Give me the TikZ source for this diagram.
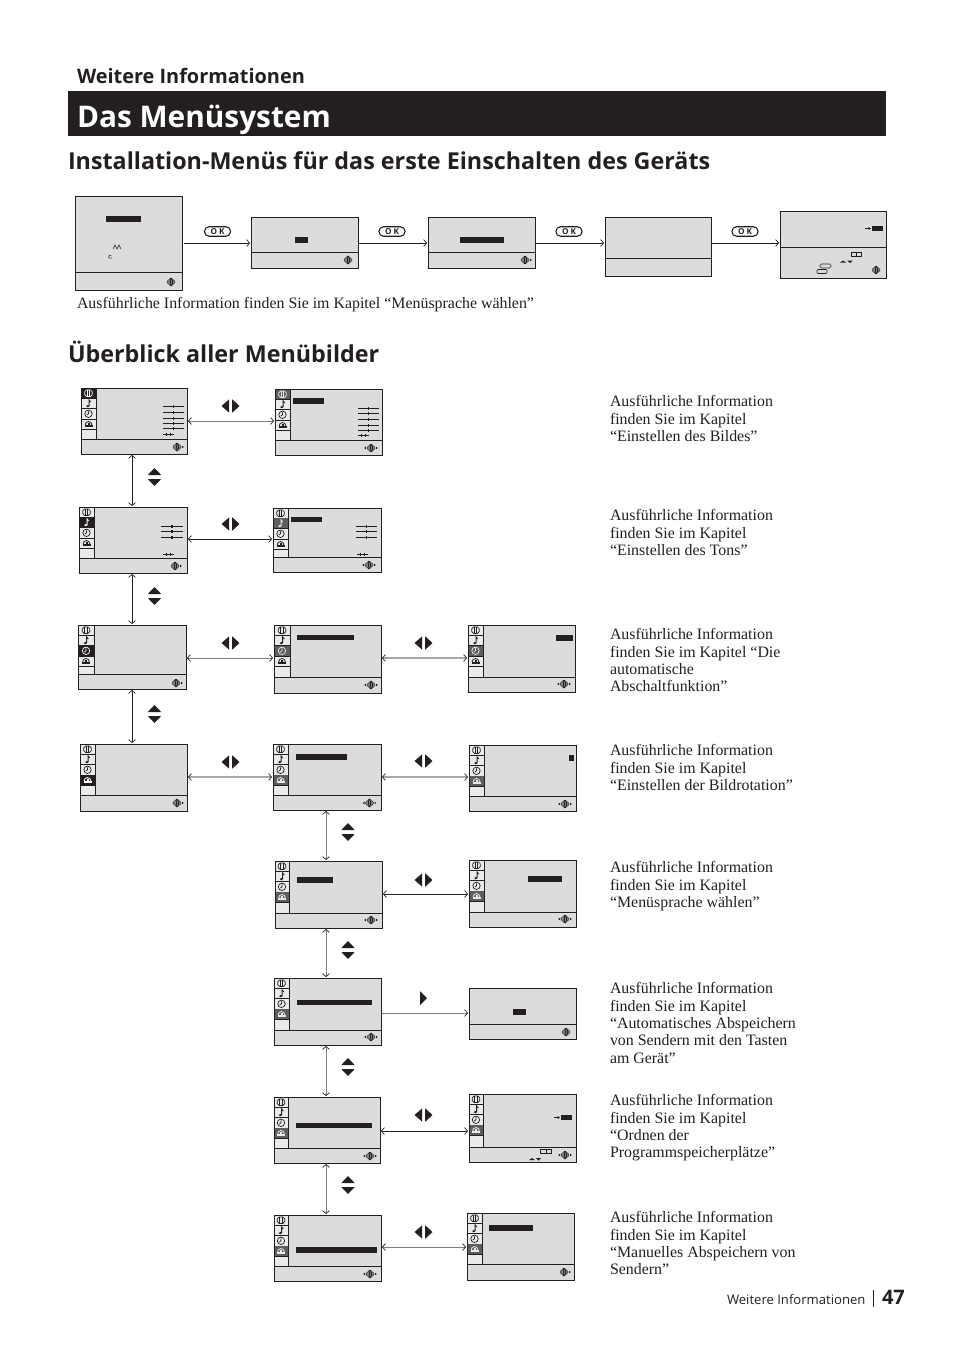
\documentclass[tikz,border=0pt]{standalone}
\usepackage{fontspec}
\setmainfont{Liberation Serif}
\newfontfamily\headsans{Open Sans}
\usetikzlibrary{arrows.meta}
\definecolor{scr}{HTML}{DCDCDC}
\definecolor{cell}{HTML}{EAEAEA}
\definecolor{ink}{HTML}{231F20}
\definecolor{act}{HTML}{5E5E5E}
\definecolor{lgr}{HTML}{A8A8A8}
\definecolor{mgr}{HTML}{808080}
\tikzset{
  scrbox/.style={draw=ink,fill=scr,line width=0.9pt,inner sep=0pt,outer sep=0pt},
  body/.style={inner sep=0pt,outer sep=0pt,anchor=north west,align=left,text=ink,font=\fontsize{15.9}{17.4}\selectfont},
  capt/.style={inner sep=0pt,outer sep=0pt,anchor=base west,text=ink},
  okpill/.style={draw=ink,line width=1.1pt,rounded corners=4.5pt,minimum width=26pt,minimum height=9.5pt,inner sep=0pt,text height=5.8pt,text depth=0pt,font=\headsans\fontsize{8.2}{8.2}\selectfont\bfseries,text=ink},
  conn/.style={draw=ink,line width=0.8pt,shorten <=1pt,shorten >=1pt},
  two/.style={conn,{Straight Barb[length=3pt,width=7pt,line width=0.7pt,color=ink]}-{Straight Barb[length=3pt,width=7pt,line width=0.7pt,color=ink]}},
  one/.style={conn,-{Straight Barb[length=3pt,width=7pt,line width=0.7pt,color=ink]}},
  gline/.style={draw=mgr,line width=1pt},
  lline/.style={draw=lgr,line width=1.4pt},
}
% screen: name x1 y1 x2 y2 footer
\newcommand{\tvbox}[6]{%
  \pgfmathsetmacro{\cxx}{(#2+#4)/2}\pgfmathsetmacro{\cyy}{(#3+#5)/2}%
  \pgfmathsetmacro{\ww}{#4-#2}\pgfmathsetmacro{\hh}{#5-#3}%
  \node[scrbox,minimum width=\ww pt,minimum height=\hh pt] (#1) at (\cxx,\cyy) {};%
  \draw[ink,line width=0.9pt] (#2,#6) -- (#4,#6);}
% sidebar: x1 y1 sx footer active(1-4) mode(0 black,1 grey)
\newcommand{\sidebar}[6]{%
  \fill[cell] (#1,#2) rectangle (#3,#4);
  \draw[ink,line width=0.9pt] (#3,#2) -- (#3,#4);
  \pgfmathsetmacro{\ccx}{(#1+#3)/2}%
  \foreach \i in {1,2,3,4}{%
    \pgfmathsetmacro{\ccy}{#2+5.2+10.3*(\i-1)}%
    \pgfmathsetmacro{\sepy}{#2+10.3*\i}%
    \ifnum\i=#5\relax
      \ifnum#6=0\relax\fill[ink] (#1,\ccy-5.2) rectangle (#3,\ccy+5.2);\def\icol{white}%
      \else\fill[act] (#1,\ccy-5.2) rectangle (#3,\ccy+5.2);\def\icol{cell}\fi
    \else\def\icol{ink}\fi
    \draw[ink,line width=0.7pt] (#1,\sepy) -- (#3,\sepy);
    \begin{scope}[shift={(\ccx,\ccy)},line width=0.7pt]
      \ifcase\i\or
        \draw[\icol,rounded corners=1.8pt] (-3.8,-3.2) rectangle (3.8,3.2);
        \draw[\icol,line width=0.9pt] (-1.2,-2.8) -- (-1.2,2.8) (1.2,-2.8) -- (1.2,2.8);
      \or
        \fill[\icol] (-0.7,2.6) ellipse (1.6pt and 1.2pt);
        \draw[\icol,line width=0.8pt] (0.6,2.6) -- (0.6,-3.6) -- (2.4,-1.4);
      \or
        \draw[\icol] (0,0) circle (3.7pt);
        \draw[\icol] (0,-2.4) -- (0,0) -- (-1.7,1.2);
      \or
        \draw[\icol,line width=0.8pt] (-3.4,1) arc (180:0:3.4pt and 3.6pt);
        \fill[\icol] (-4,0.6) rectangle (4,3);
        \fill[\icol] (-1,-1.2) rectangle (1,0.8);
      \fi
    \end{scope}}%
  \draw[ink,line width=0.9pt] (#1,#2) rectangle (#3,#4);}
% navigation icon: x y kind(0 none, 1 right, 2 both)
\newcommand{\navicon}[3]{%
  \begin{scope}[shift={(#1,#2)}]
    \fill[mgr] (0,0) ellipse (3.6pt and 2.6pt);
    \draw[ink,line width=0.5pt] (0,0) ellipse (4pt and 2.8pt);
    \draw[ink,line width=0.5pt] (-1.2,-2.4) -- (-1.2,2.4) (1.2,-2.4) -- (1.2,2.4);
    \fill[ink] (-2,-2.8) -- (2,-2.8) -- (0,-4.4) -- cycle (-2,2.8) -- (2,2.8) -- (0,4.4) -- cycle;
    \ifnum#3>0\relax\fill[ink] (5,-1.3) -- (6.8,0) -- (5,1.3) -- cycle;\fi
    \ifnum#3>1\relax\fill[ink] (-5,-1.3) -- (-6.8,0) -- (-5,1.3) -- cycle;\fi
  \end{scope}}
\newcommand{\blackbar}[4]{\fill[ink] (#1,#2) rectangle (#3,#4);}
% big left/right triangles
\newcommand{\lrtri}[2]{%
  \fill[ink] (#1-1.3,#2-6.7) -- (#1-1.3,#2+6.7) -- (#1-9,#2) -- cycle;
  \fill[ink] (#1+1.7,#2-6.7) -- (#1+1.7,#2+6.7) -- (#1+9,#2) -- cycle;}
\newcommand{\rtri}[2]{\fill[ink] (#1-3.5,#2-7) -- (#1-3.5,#2+7) -- (#1+3.5,#2) -- cycle;}
\newcommand{\udtri}[2]{%
  \fill[ink] (#1-6.7,#2-2) -- (#1+6.7,#2-2) -- (#1,#2-9) -- cycle;
  \fill[ink] (#1-6.7,#2+2) -- (#1+6.7,#2+2) -- (#1,#2+9) -- cycle;}
% sliders: x1 x2 list-of-y
\newcommand{\sliders}[3]{%
  \foreach \yy in {#3}{%
    \draw[ink,line width=0.6pt] (#1,\yy) -- (#2,\yy);
    \pgfmathsetmacro{\mx}{(#1+#2)/2}%
    \fill[ink] (\mx-0.7,\yy-1.5) rectangle (\mx+0.7,\yy+1.5);}}
\newcommand{\pluses}[2]{%
  \draw[ink,line width=0.5pt] (#1,#2) -- (#1+11,#2);
  \draw[ink,line width=0.7pt] (#1+3,#2-1.5) -- (#1+3,#2+1.5) (#1+7.5,#2-1.5) -- (#1+7.5,#2+1.5);}
\newcommand{\harrow}[3]{%
  \draw[ink,line width=0.6pt] (#1,#2) -- (#1+5,#2);
  \fill[ink] (#1+3.5,#2-1.6) -- (#1+6,#2) -- (#1+3.5,#2+1.6) -- cycle;}
\newcommand{\hconn}[5]{\draw[two,#5] (#1.east |- 0,#3) -- (#2.west |- 0,#3);}
\newcommand{\vconn}[5]{\draw[two,#5] (#1.south -| #3,0) -- (#2.north -| #3,0);}
\begin{document}
\begin{tikzpicture}[x=1pt,y=-1pt]
\useasboundingbox (0,0) rectangle (954,1351);
% headings
\node[capt,font=\headsans\fontsize{19.9}{20}\selectfont\bfseries] (h1) at (77,84) {Weitere Informationen};
\fill[ink] (68,91) rectangle (886,136);
\node[capt,text=white,font=\headsans\fontsize{29.8}{30}\selectfont\bfseries] (h2) at (77,127.5) {Das Menüsystem};
\node[capt,font=\headsans\fontsize{23.3}{24}\selectfont\bfseries] (h3) at (68,170) {Installation-Menüs für das erste Einschalten des Geräts};
\node[capt,font=\fontsize{15.9}{17}\selectfont] (h4) at (77,308) {Ausführliche Information finden Sie im Kapitel “Menüsprache wählen”};
\node[capt,font=\headsans\fontsize{23.3}{24}\selectfont\bfseries] (h5) at (68,362) {Überblick aller Menübilder};
% installation row
\tvbox{I1}{75}{196}{182.5}{290}{272}
\tvbox{I2}{251}{217}{358}{268}{252}
\tvbox{I3}{428}{217}{535}{268}{252}
\tvbox{I4}{605}{217}{711}{276}{258}
\tvbox{I5}{780}{211}{886}{278}{247}
\blackbar{106}{216}{141}{222}
\blackbar{295}{237}{308}{243}
\blackbar{460}{237}{504}{243}
\blackbar{872}{226}{883}{231}
\harrow{865}{228.5}{}
\draw[ink,line width=0.5pt] (113,249) -- (115,245) -- (117,249) -- (119,245) -- (121,249);
\draw[ink,line width=0.5pt] (111.5,256) arc (30:330:1.7pt);
\navicon{171}{282}{0}
\navicon{348}{260}{0}
\navicon{525}{260}{1}
\navicon{876}{270}{0}
\draw[ink,line width=0.6pt] (851,252) rectangle (861,256.5) (856,252) -- (856,256.5);
\fill[ink] (840,262.5) -- (843,260.5) -- (846,262.5) -- cycle (847,260.5) -- (853,260.5) -- (850,263) -- cycle;
\draw[ink,line width=0.6pt,rounded corners=1.5pt] (820,264) rectangle (831,268);
\draw[ink,line width=0.6pt,rounded corners=1pt] (817,269.5) rectangle (827,273.5);
\node[okpill] (ok1) at (217.5,231.5) {O\hspace{2pt}K};
\node[okpill] (ok2) at (392,231.5) {O\hspace{2pt}K};
\node[okpill] (ok3) at (569,231.5) {O\hspace{2pt}K};
\node[okpill] (ok4) at (745,231.5) {O\hspace{2pt}K};
\draw[one] (I1.east |- 0,243) -- (I2.west |- 0,243);
\draw[one] (I2.east |- 0,243) -- (I3.west |- 0,243);
\draw[one] (I3.east |- 0,243) -- (I4.west |- 0,243);
\draw[one] (I4.east |- 0,243) -- (I5.west |- 0,243);
% overview title screens
\tvbox{A1}{81}{388}{187}{454}{439}  \sidebar{81}{388}{96}{439}{1}{0}
\tvbox{A2}{275}{389}{382}{455}{440} \sidebar{275}{389}{290}{440}{1}{1}
\tvbox{B1}{79}{507}{187}{573}{558}  \sidebar{79}{507}{94}{558}{2}{0}
\tvbox{B2}{273}{508}{381}{572}{557} \sidebar{273}{508}{288}{557}{2}{1}
\tvbox{C1}{78}{625}{186}{689}{674}  \sidebar{78}{625}{94}{674}{3}{0}
\tvbox{C2}{274}{625}{381}{693}{677} \sidebar{274}{625}{290}{677}{3}{1}
\tvbox{C3}{468}{625}{575}{692}{677} \sidebar{468}{625}{483}{677}{3}{1}
\tvbox{D1}{80}{744}{187}{811}{795}  \sidebar{80}{744}{95}{795}{4}{0}
\tvbox{D2}{273}{744}{381}{810}{795} \sidebar{273}{744}{288}{795}{4}{1}
\tvbox{D3}{469}{745}{576}{811}{796} \sidebar{469}{745}{484}{796}{4}{1}
\tvbox{E1}{275}{861}{382}{928}{913} \sidebar{275}{861}{289}{913}{4}{1}
\tvbox{E2}{469}{860}{576}{927}{912} \sidebar{469}{860}{484}{912}{4}{1}
\tvbox{F1}{274}{978}{381}{1045}{1030} \sidebar{274}{978}{289}{1030}{4}{1}
\tvbox{F2}{469}{988}{576}{1039}{1024}
\tvbox{G1}{274}{1097}{380}{1163}{1148} \sidebar{274}{1097}{288}{1148}{4}{1}
\tvbox{G2}{469}{1094}{576}{1162}{1147} \sidebar{469}{1094}{483}{1147}{4}{1}
\tvbox{H1}{274}{1215}{381}{1281}{1266} \sidebar{274}{1215}{288}{1266}{4}{1}
\tvbox{H2}{467}{1213}{574}{1280}{1264} \sidebar{467}{1213}{482}{1264}{4}{1}
% bars
\blackbar{293}{398}{324}{404}
\blackbar{291}{517}{322}{522}
\blackbar{297}{635}{354}{640}
\blackbar{556}{635}{573}{641}
\blackbar{296}{754}{347}{760}
\blackbar{569}{755}{574}{761}
\blackbar{297}{877}{333}{883}
\blackbar{528}{876}{562}{882}
\blackbar{297}{1000}{372}{1005}
\blackbar{513}{1009}{526}{1015}
\blackbar{296}{1123}{372}{1128}
\blackbar{561}{1115}{572}{1120}
\blackbar{296}{1247}{377}{1253}
\blackbar{489}{1225}{533}{1231}
\harrow{554}{1117.5}{}
\draw[ink,line width=0.5pt] (540,1149) rectangle (551,1153.5) (546,1149) -- (546,1153.5);
\fill[ink] (529,1160) -- (532,1158) -- (535,1160) -- cycle (536,1158) -- (541,1158) -- (538.5,1160.5) -- cycle;
% sliders
\sliders{163}{184}{406,412,418,423,428}
\pluses{163}{434}
\sliders{358}{379}{408,413.5,419,425,430}
\pluses{358}{435}
\sliders{161}{183}{526,531,537}
\pluses{163}{554}
\sliders{356}{377}{526,531,537}
\pluses{357}{554}
% navigation icons
\navicon{177}{447}{1}
\navicon{371}{448}{2}
\navicon{175}{566}{1}
\navicon{369}{565}{2}
\navicon{176}{683}{1}
\navicon{371}{685}{2}
\navicon{564}{684}{2}
\navicon{177}{803}{1}
\navicon{369.5}{803}{2}
\navicon{565}{804}{2}
\navicon{371}{920}{2}
\navicon{565}{919}{2}
\navicon{371}{1037}{2}
\navicon{566}{1032}{0}
\navicon{370}{1156}{2}
\navicon{565}{1155}{2}
\navicon{370}{1274}{2}
\navicon{564}{1272}{1}
% connectors
\hconn{A1}{A2}{421}{}{gline}
\hconn{B1}{B2}{539}{}{}
\hconn{C1}{C2}{658}{}{gline}
\hconn{C2}{C3}{658}{}{lline}
\hconn{D1}{D2}{777}{}{lline}
\hconn{D2}{D3}{777}{}{lline}
\hconn{E1}{E2}{894}{}{}
\draw[one,gline] (F1.east |- 0,1013) -- (F2.west |- 0,1013);
\hconn{G1}{G2}{1131}{}{}
\hconn{H1}{H2}{1247}{}{gline}
\vconn{A1}{B1}{132}{}{}
\vconn{B1}{C1}{132}{}{}
\vconn{C1}{D1}{132}{}{}
\vconn{D2}{E1}{326}{}{gline}
\vconn{E1}{F1}{326}{}{gline}
\vconn{F1}{G1}{326}{}{gline}
\vconn{G1}{H1}{326}{}{gline}
% big triangles
\lrtri{230.5}{406}
\lrtri{230.5}{524}
\lrtri{230.5}{643}
\lrtri{230.5}{762}
\lrtri{423.5}{643}
\lrtri{423.5}{761}
\lrtri{423.5}{880}
\lrtri{423.5}{1115}
\lrtri{423.5}{1232}
\rtri{423.5}{998}
\udtri{154.5}{477}
\udtri{154.5}{596}
\udtri{154.5}{714}
\udtri{348}{832}
\udtri{348}{950}
\udtri{348}{1067}
\udtri{348}{1185}
% explanations
\node[body] (t1) at (610,395.5) {Ausführliche Information\\finden Sie im Kapitel\\“Einstellen des Bildes”};
\node[body] (t2) at (610,509.5) {Ausführliche Information\\finden Sie im Kapitel\\“Einstellen des Tons”};
\node[body] (t3) at (610,628.5) {Ausführliche Information\\finden Sie im Kapitel “Die\\automatische\\Abschaltfunktion”};
\node[body] (t4) at (610,744.5) {Ausführliche Information\\finden Sie im Kapitel\\“Einstellen der Bildrotation”};
\node[body] (t5) at (610,861.5) {Ausführliche Information\\finden Sie im Kapitel\\“Menüsprache wählen”};
\node[body] (t6) at (610,982.5) {Ausführliche Information\\finden Sie im Kapitel\\“Automatisches Abspeichern\\von Sendern mit den Tasten\\am Gerät”};
\node[body] (t7) at (610,1094.5) {Ausführliche Information\\finden Sie im Kapitel\\“Ordnen der\\Programmspeicherplätze”};
\node[body] (t8) at (610,1211.5) {Ausführliche Information\\finden Sie im Kapitel\\“Manuelles Abspeichern von\\Sendern”};
% page foot
\node[capt,font=\headsans\fontsize{13.1}{13}\selectfont] (f1) at (727,1304) {Weitere Informationen};
\draw[ink,line width=0.6pt] (873,1290) -- (873,1307);
\node[capt,font=\headsans\fontsize{20}{20}\selectfont\bfseries] (f2) at (882,1304) {47};
\end{tikzpicture}
\end{document}
